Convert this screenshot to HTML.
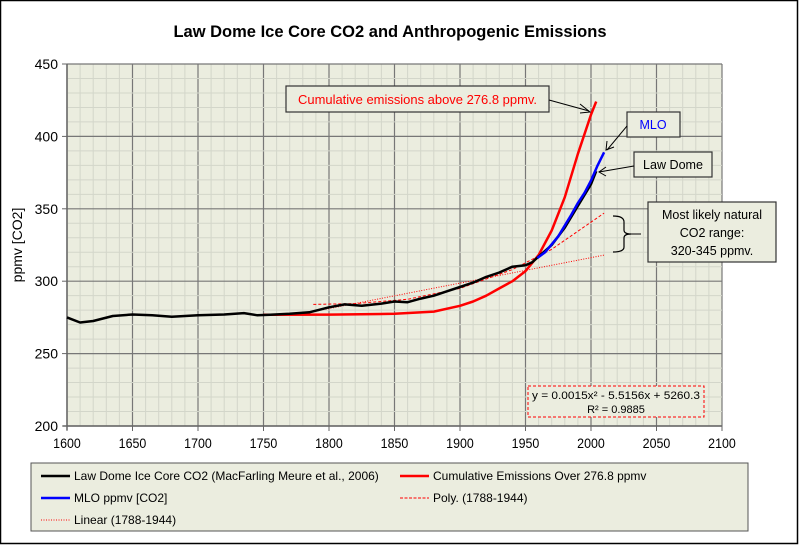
<!DOCTYPE html>
<html><head><meta charset="utf-8">
<style>
html,body{margin:0;padding:0;background:#fff;}
body{width:799px;height:545px;overflow:hidden;font-family:"Liberation Sans",Arial,sans-serif;}
svg text{font-family:"Liberation Sans",Arial,sans-serif;}
</style></head>
<body>
<svg id="chart" width="799" height="545" viewBox="0 0 799 545" xmlns="http://www.w3.org/2000/svg">
<rect x="0.5" y="0.5" width="797" height="543" fill="#fff" stroke="#000" stroke-width="1.5"/>
<text x="390" y="37" text-anchor="middle" font-size="16.5" font-weight="bold">Law Dome Ice Core CO2 and Anthropogenic Emissions</text>
<rect x="67" y="64" width="655" height="362" fill="#ebeddf"/>
<g id="grid"></g>
<g id="axes"></g>
<g id="series"></g>
<text transform="translate(22,245) rotate(-90)" text-anchor="middle" font-size="14">ppmv [CO2]</text>

<g>
<rect x="286" y="86" width="263" height="26" fill="#ebeddf" stroke="#333" stroke-width="1.2"/>
<text x="298" y="104" font-size="12.5" fill="#f00" textLength="239" lengthAdjust="spacingAndGlyphs">Cumulative emissions above 276.8 ppmv.</text>
<line x1="549" y1="100" x2="589" y2="111" stroke="#000"/>
<polyline points="580,104 590,112 580,113" fill="none" stroke="#000"/>
</g>
<g>
<rect x="627" y="112" width="53" height="25" fill="#ebeddf" stroke="#333" stroke-width="1.2"/>
<text x="653" y="129" text-anchor="middle" font-size="12.5" fill="#00f">MLO</text>
<line x1="627" y1="126" x2="607" y2="150" stroke="#000"/>
<polyline points="607,141 606,150 614,147" fill="none" stroke="#000"/>
</g>
<g>
<rect x="634" y="152" width="78" height="25" fill="#ebeddf" stroke="#333" stroke-width="1.2"/>
<text x="673" y="169" text-anchor="middle" font-size="12.5" textLength="60" lengthAdjust="spacingAndGlyphs">Law Dome</text>
<line x1="634" y1="166" x2="599" y2="172" stroke="#000"/>
<polyline points="606,167 599,172 606,176" fill="none" stroke="#000"/>
</g>
<g>
<path d="M613,216 Q624,216 624,222 L624,230 Q624,234 631,234 Q624,234 624,238 L624,247 Q624,252 613,252" fill="none" stroke="#000" stroke-width="1.2"/>
<line x1="631" y1="234" x2="641" y2="234" stroke="#000"/>
<rect x="648" y="202" width="128" height="60" fill="#ebeddf" stroke="#333" stroke-width="1.2"/>
<text x="712" y="219" text-anchor="middle" font-size="12.5">Most likely natural</text>
<text x="712" y="237" text-anchor="middle" font-size="12.5">CO2 range:</text>
<text x="712" y="255" text-anchor="middle" font-size="12.5">320-345 ppmv.</text>
</g>
<g>
<rect x="528" y="386" width="176" height="31" fill="#ebeddf" stroke="#f00" stroke-dasharray="3,2"/>
<text x="616" y="399" text-anchor="middle" font-size="11" textLength="168" lengthAdjust="spacingAndGlyphs">y = 0.0015x² - 5.5156x + 5260.3</text>
<text x="616" y="413" text-anchor="middle" font-size="11">R² = 0.9885</text>
</g>

<g>
<rect x="31" y="463" width="717" height="68" fill="#ebeddf" stroke="#555"/>
<g><line x1="41" y1="476" x2="70" y2="476" stroke="#000" stroke-width="2.5"/><text x="74" y="480" font-size="12">Law Dome Ice Core CO2 (MacFarling Meure et al., 2006)</text></g>
<g><line x1="400" y1="476" x2="429" y2="476" stroke="#f00" stroke-width="2.5"/><text x="433" y="480" font-size="12">Cumulative Emissions Over 276.8 ppmv</text></g>
<g><line x1="41" y1="498" x2="70" y2="498" stroke="#00f" stroke-width="2.5"/><text x="74" y="502" font-size="12">MLO ppmv [CO2]</text></g>
<g><line x1="400" y1="498" x2="429" y2="498" stroke="#f00" stroke-width="1" stroke-dasharray="3,1.5"/><text x="433" y="502" font-size="12">Poly. (1788-1944)</text></g>
<g><line x1="41" y1="520" x2="70" y2="520" stroke="#f00" stroke-width="1" stroke-dasharray="1,1.5"/><text x="74" y="524" font-size="12">Linear (1788-1944)</text></g>
</g>
</svg>
<script>
const xTicks=[1600,1650,1700,1750,1800,1850,1900,1950,2000,2050,2100];
const yTicks=[200,250,300,350,400,450];
const lawDomeYears=[1600,1610,1620,1635,1650,1665,1680,1700,1720,1735,1745,1755,1770,1785,1800,1812,1825,1840,1850,1860,1870,1880,1890,1900,1910,1920,1930,1940,1950,1955,1960,1970,1980,1990,2000,2004];
const lawDomeValues=[275,271.5,272.5,276,277,276.5,275.5,276.5,277,278,276.5,276.8,277.5,278.5,282,284,283,284.5,286,285.5,288,290,293,296,299,303,306,310,311,313,317,325,337,352,367,376];
const mloYears=[1959,1965,1970,1975,1980,1985,1990,1995,2000,2005,2010];
const mloValues=[316,320,325.5,331,338.5,346,354,361,369.5,380,389];
const emisYears=[1750,1800,1850,1880,1900,1910,1920,1930,1940,1950,1960,1970,1980,1990,2000,2004];
const emisValues=[276.8,276.9,277.5,279,283,286,290,295,300,307,318,335,358,388,415,424];
const polyYears=[1788,1820,1860,1900,1940,1970,2010];
const polyValues=[284,284.5,287.5,295,308,322,347];
const linYears=[1788,2010];
const linValues=[279,318];

const X0=67,X1=722,Y0=426,Y1=64;
const xs=v=>X0+(v-1600)/(2100-1600)*(X1-X0);
const ys=v=>Y0-(v-200)/(450-200)*(Y0-Y1);
const NS="http://www.w3.org/2000/svg";
function mk(tag,attrs,parent){const e=document.createElementNS(NS,tag);for(const k in attrs)e.setAttribute(k,attrs[k]);parent.appendChild(e);return e;}
const grid=document.getElementById('grid'),axes=document.getElementById('axes'),series=document.getElementById('series');
for(let yr=1600;yr<=2100;yr+=10){const l=mk('line',{x1:xs(yr),x2:xs(yr),y1:Y1,y2:Y0,stroke:yr%50===0?'#777':'#d3d6ca','stroke-width':yr%50===0?1.2:1},grid);

}
for(let v=200;v<=450;v+=10){const l=mk('line',{x1:X0,x2:X1,y1:ys(v),y2:ys(v),stroke:v%50===0?'#777':'#d3d6ca','stroke-width':v%50===0?1.2:1},grid);

}
mk('line',{x1:X0,x2:X0,y1:Y1,y2:Y0+4,stroke:'#666','stroke-width':1.5},axes);
mk('line',{x1:X0-4,x2:X1,y1:Y0,y2:Y0,stroke:'#666','stroke-width':1.5},axes);
xTicks.forEach(t=>{mk('line',{x1:xs(t),x2:xs(t),y1:Y0,y2:Y0+5,stroke:'#666'},axes);
const tx=mk('text',{x:xs(t),y:Y0+22,'text-anchor':'middle','font-size':13.5,transform:`translate(${xs(t)},0) scale(0.92,1) translate(${-xs(t)},0)`},axes);tx.textContent=t;

});
yTicks.forEach(t=>{mk('line',{x1:X0-5,x2:X0,y1:ys(t),y2:ys(t),stroke:'#666'},axes);
const tx=mk('text',{x:X0-9,y:ys(t)+5,'text-anchor':'end','font-size':14},axes);tx.textContent=t;

});
function pts(a,b){return a.map((x,i)=>xs(x).toFixed(1)+','+ys(b[i]).toFixed(1)).join(' ');}
const lin=mk('polyline',{points:pts(linYears,linValues),fill:'none',stroke:'#f00','stroke-width':1,'stroke-dasharray':'1,1.5'},series);


const poly=mk('polyline',{points:pts(polyYears,polyValues),fill:'none',stroke:'#f00','stroke-width':1,'stroke-dasharray':'3,2'},series);


const em=mk('polyline',{points:pts(emisYears,emisValues),fill:'none',stroke:'#f00','stroke-width':2.5,'stroke-linejoin':'round'},series);


const ld=mk('polyline',{points:pts(lawDomeYears,lawDomeValues),fill:'none',stroke:'#000','stroke-width':2.5,'stroke-linejoin':'round'},series);


const ml=mk('polyline',{points:pts(mloYears,mloValues),fill:'none',stroke:'#00f','stroke-width':2.5,'stroke-linejoin':'round'},series);


</script>
</body></html>
